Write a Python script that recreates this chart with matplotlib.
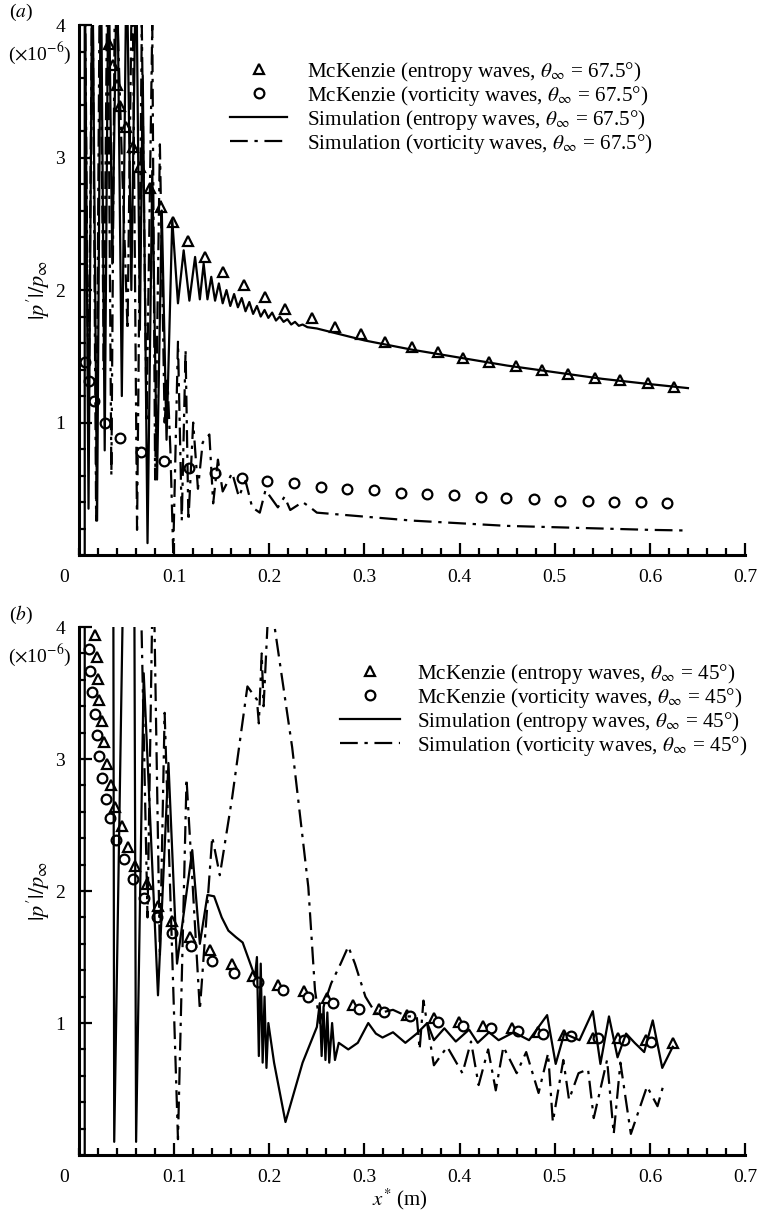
import matplotlib
matplotlib.use('Agg')
from matplotlib import pyplot
from matplotlib.ticker import MultipleLocator

pyplot.rcParams['font.family'] = 'serif'
pyplot.rcParams['font.serif'] = ['Liberation Serif', 'DejaVu Serif']
pyplot.rcParams['mathtext.fontset'] = 'stix'

# ---- panel (a): theta = 67.5 deg ----
mck_ent_a_x = [0.031, 0.036, 0.040, 0.043, 0.049, 0.057, 0.064, 0.075, 0.086, 0.099, 0.115, 0.132, 0.151,
               0.173, 0.196, 0.217, 0.245, 0.269, 0.296, 0.322, 0.350, 0.377, 0.404, 0.431, 0.459, 0.487,
               0.514, 0.542, 0.569, 0.598, 0.625]
mck_ent_a_y = [3.86, 3.70, 3.55, 3.39, 3.23, 3.08, 2.93, 2.77, 2.63, 2.51, 2.37, 2.25, 2.14,
               2.04, 1.95, 1.86, 1.79, 1.72, 1.67, 1.61, 1.57, 1.53, 1.49, 1.46, 1.43, 1.40,
               1.37, 1.34, 1.32, 1.30, 1.27]

mck_vor_a_x = [0.006, 0.010, 0.016, 0.027, 0.043, 0.065, 0.089, 0.116, 0.143, 0.171, 0.198, 0.226, 0.254,
               0.282, 0.310, 0.338, 0.366, 0.394, 0.422, 0.449, 0.478, 0.506, 0.535, 0.562, 0.591, 0.618]
mck_vor_a_y = [1.46, 1.31, 1.16, 1.00, 0.88, 0.78, 0.71, 0.66, 0.62, 0.58, 0.56, 0.54, 0.51,
               0.50, 0.49, 0.47, 0.46, 0.45, 0.44, 0.43, 0.42, 0.41, 0.41, 0.40, 0.40, 0.39]

sim_ent_a_x = [0.006, 0.006, 0.010, 0.014, 0.019, 0.023, 0.027, 0.031, 0.035, 0.040, 0.045, 0.050, 0.055,
               0.060, 0.064, 0.067, 0.072, 0.077, 0.082, 0.087, 0.092, 0.098, 0.104, 0.110, 0.116, 0.122,
               0.127, 0.131, 0.135, 0.139, 0.143, 0.147, 0.151, 0.155, 0.159, 0.163, 0.167, 0.171, 0.175,
               0.179, 0.183, 0.187, 0.191, 0.195, 0.199, 0.203, 0.207, 0.211, 0.215, 0.219, 0.223, 0.227,
               0.231, 0.235, 0.240, 0.25, 0.30, 0.35, 0.40, 0.45, 0.50, 0.55, 0.60, 0.64]
sim_ent_a_y = [0.0, 4.6, 0.35, 4.6, 0.26, 4.6, 0.79, 4.6, 2.2, 4.6, 1.2, 4.6, 2.0,
               4.6, 1.7, 3.62, 0.09, 2.9, 0.57, 2.6, 0.87, 2.53, 1.90, 2.30, 1.92, 2.25,
               1.93, 2.20, 1.93, 2.10, 1.92, 2.05, 1.90, 2.00, 1.88, 1.97, 1.87, 1.94, 1.84,
               1.91, 1.82, 1.88, 1.80, 1.85, 1.79, 1.83, 1.77, 1.80, 1.76, 1.78, 1.74, 1.76,
               1.73, 1.74, 1.72, 1.71, 1.62, 1.55, 1.49, 1.43, 1.38, 1.33, 1.29, 1.26]

sim_vor_a_x = [0.006, 0.010, 0.014, 0.018, 0.022, 0.026, 0.030, 0.034, 0.038, 0.045, 0.051, 0.056, 0.061,
               0.066, 0.071, 0.077, 0.080, 0.085, 0.090, 0.093, 0.096, 0.099, 0.104, 0.108, 0.112, 0.115,
               0.120, 0.125, 0.130, 0.137, 0.141, 0.146, 0.151, 0.161, 0.168, 0.175, 0.182, 0.190, 0.196,
               0.209, 0.216, 0.222, 0.235, 0.243, 0.25, 0.30, 0.35, 0.40, 0.45, 0.50, 0.55, 0.60, 0.64]
sim_vor_a_y = [4.6, 0.9, 4.6, 0.26, 4.6, 1.4, 4.6, 0.6, 4.6, 3.0, 1.70, 4.6, 0.19,
               4.0, 1.0, 4.0, 0.57, 3.1, 1.0, 1.32, 0.8, 0.02, 1.61, 0.26, 1.55, 0.26,
               1.0, 0.5, 0.85, 0.91, 0.39, 0.72, 0.48, 0.62, 0.44, 0.56, 0.36, 0.32, 0.49,
               0.36, 0.44, 0.34, 0.40, 0.36, 0.32, 0.29, 0.26, 0.24, 0.22, 0.21, 0.20, 0.19, 0.185]

# ---- panel (b): theta = 45 deg ----
mck_ent_b_x = [0.017, 0.019, 0.020, 0.021, 0.024, 0.026, 0.029, 0.034, 0.038, 0.045, 0.052, 0.059, 0.071,
               0.083, 0.098, 0.117, 0.138, 0.161, 0.183, 0.209, 0.236, 0.261, 0.288, 0.315, 0.345, 0.373,
               0.399, 0.425, 0.455, 0.482, 0.510, 0.540, 0.567, 0.596, 0.624]
mck_ent_b_y = [3.94, 3.77, 3.61, 3.45, 3.29, 3.13, 2.96, 2.80, 2.64, 2.49, 2.33, 2.19, 2.05,
               1.89, 1.77, 1.65, 1.55, 1.45, 1.36, 1.29, 1.24, 1.19, 1.14, 1.11, 1.06, 1.04,
               1.01, 0.98, 0.96, 0.93, 0.91, 0.89, 0.89, 0.87, 0.85]

mck_vor_b_x = [0.010, 0.012, 0.014, 0.017, 0.019, 0.021, 0.024, 0.028, 0.033, 0.039, 0.047, 0.057, 0.068,
               0.082, 0.098, 0.118, 0.140, 0.163, 0.188, 0.214, 0.241, 0.267, 0.294, 0.321, 0.348, 0.377,
               0.404, 0.433, 0.461, 0.488, 0.517, 0.545, 0.573, 0.601]
mck_vor_b_y = [3.83, 3.67, 3.51, 3.34, 3.18, 3.02, 2.86, 2.70, 2.55, 2.39, 2.24, 2.09, 1.95,
               1.80, 1.68, 1.58, 1.47, 1.38, 1.31, 1.25, 1.20, 1.15, 1.11, 1.08, 1.05, 1.01,
               0.98, 0.96, 0.94, 0.92, 0.90, 0.89, 0.87, 0.86]

sim_ent_b_x = [0.006, 0.006, 0.036, 0.037, 0.047, 0.058, 0.060, 0.068, 0.083, 0.094, 0.103, 0.119, 0.127,
               0.135, 0.142, 0.150, 0.157, 0.165, 0.172, 0.180, 0.185, 0.187, 0.189, 0.191, 0.193, 0.195,
               0.197, 0.199, 0.205, 0.217, 0.235, 0.250, 0.253, 0.255, 0.257, 0.259, 0.261, 0.263, 0.266,
               0.269, 0.273, 0.283, 0.293, 0.304, 0.312, 0.319, 0.330, 0.343, 0.355, 0.366, 0.373, 0.384,
               0.396, 0.410, 0.419, 0.431, 0.441, 0.457, 0.473, 0.492, 0.501, 0.510, 0.526, 0.540, 0.548,
               0.557, 0.566, 0.575, 0.584, 0.594, 0.603, 0.613, 0.624]
sim_ent_b_y = [0.0, 4.6, 4.6, 0.10, 4.6, 4.6, 0.10, 3.65, 1.21, 2.97, 1.45, 2.31, 1.60,
               1.97, 1.96, 1.80, 1.70, 1.65, 1.61, 1.45, 1.35, 1.50, 0.75, 1.45, 0.70, 1.20,
               0.66, 1.00, 0.70, 0.25, 0.70, 0.97, 1.15, 0.75, 1.12, 0.72, 1.08, 0.70, 1.00,
               0.72, 0.85, 0.80, 0.85, 1.00, 0.92, 0.89, 0.93, 0.85, 0.92, 1.00, 0.87, 0.96,
               0.86, 0.95, 0.85, 0.93, 0.87, 0.93, 0.87, 1.06, 0.69, 0.92, 0.87, 1.09, 0.69,
               1.05, 0.74, 0.92, 0.85, 0.78, 1.02, 0.66, 0.82]

sim_vor_b_x = [0.006, 0.064, 0.072, 0.078, 0.085, 0.090, 0.104, 0.113, 0.127, 0.140, 0.148, 0.161, 0.177,
               0.187, 0.189, 0.192, 0.194, 0.198, 0.202, 0.206, 0.224, 0.241, 0.248, 0.253, 0.258, 0.265,
               0.275, 0.283, 0.290, 0.301, 0.312, 0.330, 0.345, 0.355, 0.358, 0.362, 0.373, 0.387, 0.403,
               0.412, 0.420, 0.430, 0.438, 0.446, 0.460, 0.470, 0.483, 0.493, 0.498, 0.509, 0.515, 0.525,
               0.535, 0.541, 0.555, 0.562, 0.569, 0.580, 0.597, 0.608, 0.615]
sim_vor_b_y = [4.6, 4.6, 1.8, 4.6, 1.5, 3.35, 0.12, 2.85, 1.10, 2.41, 2.12, 2.71, 3.55,
               3.45, 3.27, 3.8, 3.4, 4.0, 4.3, 3.98, 3.09, 2.03, 1.25, 1.00, 1.15, 1.30,
               1.45, 1.58, 1.45, 1.20, 1.07, 1.10, 1.05, 1.05, 0.80, 1.17, 0.68, 0.82, 0.62,
               0.86, 0.53, 0.80, 0.49, 0.82, 0.62, 0.78, 0.47, 0.77, 0.25, 0.72, 0.42, 0.62,
               0.65, 0.28, 0.72, 0.16, 0.70, 0.16, 0.52, 0.37, 0.55]

x_ticks = [0.1, 0.2, 0.3, 0.4, 0.5, 0.6, 0.7]
x_tick_labels = ['0.1', '0.2', '0.3', '0.4', '0.5', '0.6', '0.7']
y_ticks = [1, 2, 3, 4]
y_tick_labels = ['1', '2', '3', '4']

dashdot = (0, (8, 3, 1.5, 3))


def panel(ax, mex, mey, mvx, mvy, sex, sey, svx, svy, angle, tag, leg_anchor, hlen, hpad):
    l1, = ax.plot(mex, mey, linestyle='none', marker='^', ms=6.5, mfc='white', mec='black', mew=1.6)
    l2, = ax.plot(mvx, mvy, linestyle='none', marker='o', ms=7, mfc='white', mec='black', mew=1.6)
    l3, = ax.plot(sex, sey, color='black', lw=1.6)
    l4, = ax.plot(svx, svy, color='black', lw=1.6, linestyle=dashdot)
    labels = [r'McKenzie (entropy waves, $\theta_{\infty}$ = %s°)' % angle,
              r'McKenzie (vorticity waves, $\theta_{\infty}$ = %s°)' % angle,
              r'Simulation (entropy waves, $\theta_{\infty}$ = %s°)' % angle,
              r'Simulation (vorticity waves, $\theta_{\infty}$ = %s°)' % angle]
    ax.legend([l1, l2, l3, l4], labels, loc='upper left', bbox_to_anchor=leg_anchor, frameon=False,
              fontsize=15.2, borderpad=0, borderaxespad=0, labelspacing=0.0, handlelength=hlen,
              handletextpad=hpad, numpoints=1)

    ax.set_xlim(0, 0.7)
    ax.set_ylim(0, 4)
    ax.set_xticks(x_ticks)
    ax.set_xticklabels(x_tick_labels)
    ax.set_yticks(y_ticks)
    ax.set_yticklabels(y_tick_labels)
    ax.xaxis.set_minor_locator(MultipleLocator(0.02))
    ax.yaxis.set_minor_locator(MultipleLocator(0.2))
    ax.tick_params(which='both', direction='in', top=False, right=False, labelsize=14, width=1.6)
    ax.tick_params(which='major', length=9, pad=10)
    ax.tick_params(which='minor', length=5)
    for s in ['top', 'right']:
        ax.spines[s].set_visible(False)
    for s in ['left', 'bottom']:
        ax.spines[s].set_linewidth(2.2)

    ax.set_ylabel(r"$|p'|/p_{\infty}$", fontsize=16)
    ax.yaxis.set_label_coords(-0.04, 0.5)
    ax.annotate('0', xy=(0, 0), xycoords='axes fraction', xytext=(-11, -10),
                textcoords='offset points', ha='center', va='top', fontsize=14)
    ax.annotate(r'($\times$10$^{-6}$)', xy=(0, 1), xycoords='axes fraction', xytext=(-28, -20),
                textcoords='offset points', ha='center', va='center', fontsize=14)
    ax.annotate(tag, xy=(0, 1), xycoords='axes fraction', xytext=(-42, 9),
                textcoords='offset points', ha='center', va='center', fontsize=14)


fig = pyplot.figure(figsize=(7.59, 12.18), dpi=100)
ax1 = fig.add_axes([0.1041, 0.5443, 0.8775, 0.4351])
ax2 = fig.add_axes([0.1041, 0.0517, 0.8775, 0.4335])

panel(ax1, mck_ent_a_x, mck_ent_a_y, mck_vor_a_x, mck_vor_a_y, sim_ent_a_x, sim_ent_a_y,
      sim_vor_a_x, sim_vor_a_y, '67.5', r'($a$)', (0.227, 0.935), 2.7, 0.93)
panel(ax2, mck_ent_b_x, mck_ent_b_y, mck_vor_b_x, mck_vor_b_y, sim_ent_b_x, sim_ent_b_y,
      sim_vor_b_x, sim_vor_b_y, '45', r'($b$)', (0.392, 0.934), 2.85, 0.8)

ax2.set_xlabel(r'$x^{*}$ (m)', fontsize=15)
ax2.xaxis.set_label_coords(0.482, -0.06)

fig.savefig('out.png', dpi=100)
